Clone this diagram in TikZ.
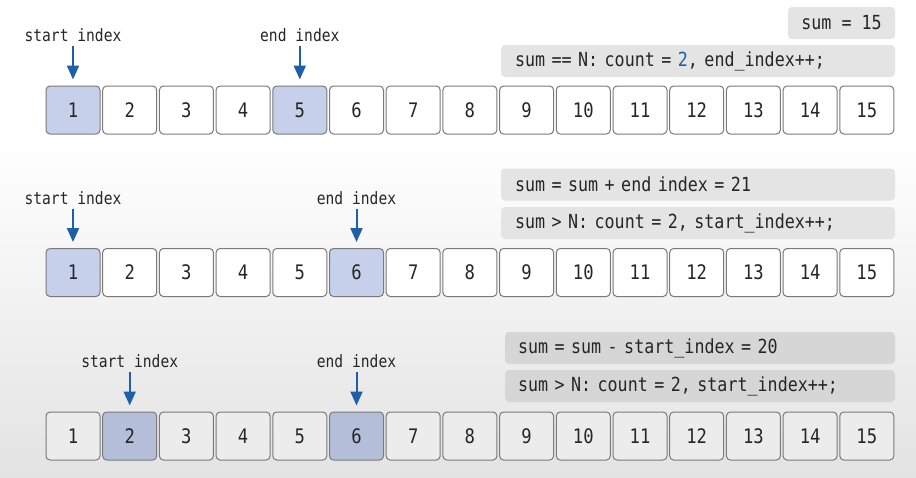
\documentclass[tikz,border=0pt]{standalone}
\usepackage{fontspec}
\setmonofont[FakeStretch=0.86]{DejaVu Sans Mono}
\usetikzlibrary{arrows.meta}

\definecolor{ptrblue}{HTML}{1F5FA8}
\definecolor{hlfill}{HTML}{C6D0EA}
\definecolor{hlfilldark}{HTML}{B5BED8}
\definecolor{cellgray}{HTML}{ECECEC}
\definecolor{notegray}{HTML}{E4E4E4}
\definecolor{notegraydark}{HTML}{D6D6D6}
\definecolor{edgegray}{HTML}{7A7A7A}

\tikzset{
  cell/.style={draw=edgegray, line width=1pt, rounded corners=4pt,
    minimum width=54pt, minimum height=48pt, inner sep=0pt,
    font=\ttfamily\fontsize{20}{20}\selectfont, text=black!85},
  note/.style={fill=notegray, rounded corners=4pt, minimum height=32pt,
    font=\ttfamily\fontsize{19.4}{20}\selectfont, text=black!85},
  codenote/.style={note, text width=366pt, inner xsep=14pt, align=left},
  ptrlabel/.style={font=\ttfamily\fontsize{17}{17}\selectfont, text=black!85, inner sep=2pt},
  ptr/.style={-{Triangle[width=12pt,length=14pt]}, ptrblue, line width=2pt,
    shorten <=2pt, shorten >=6pt},
}

\begin{document}
\begin{tikzpicture}[x=1pt, y=-1pt]
    \useasboundingbox (0,0) rectangle (916,477);
    % background
    \fill[white] (0,0) rectangle (916,477);
    \shade[top color=white, bottom color=black!11] (0,140) rectangle (916,477);

    % Step 1: sum == N
    \node[note, minimum width=107pt] (sum1) at (841.5,23) {sum = 15};
    \node[codenote] (cond1) at (698,61) {sum == N: count = \textcolor{ptrblue}{2}, end\_index++;};
    \foreach \i in {1,...,15}{
        \def\cf{white}
        \ifnum\i=1 \def\cf{hlfill}\fi
        \ifnum\i=5 \def\cf{hlfill}\fi
        \node[cell, fill=\cf] (a\i) at ({73+(\i-1)*56.7},110) {\i};
    }
    \node[ptrlabel] (s1) at (73,35) {start index};
    \node[ptrlabel] (e1) at (a5 |- s1) {end index};
    \draw[ptr] (s1) -- (a1);
    \draw[ptr] (e1) -- (a5);

    % Step 2: end index moves
    \node[codenote] (calc2) at (698,184.5) {sum = sum + end index = 21};
    \node[codenote] (cond2) at (698,223) {sum > N: count = 2, start\_index++;};
    \foreach \i in {1,...,15}{
        \def\cf{white}
        \ifnum\i=1 \def\cf{hlfill}\fi
        \ifnum\i=6 \def\cf{hlfill}\fi
        \node[cell, fill=\cf] (b\i) at ({73+(\i-1)*56.7},272.5) {\i};
    }
    \node[ptrlabel] (s2) at (73,198) {start index};
    \node[ptrlabel] (e2) at (b6 |- s2) {end index};
    \draw[ptr] (s2) -- (b1);
    \draw[ptr] (e2) -- (b6);

    % Step 3: start index moves
    \node[codenote, fill=notegraydark, text width=364pt, inner xsep=13pt] (calc3) at (700,348) {sum = sum - start\_index = 20};
    \node[codenote, fill=notegraydark, text width=364pt, inner xsep=13pt] (cond3) at (700,386) {sum > N: count = 2, start\_index++;};
    \foreach \i in {1,...,15}{
        \def\cf{cellgray}
        \ifnum\i=2 \def\cf{hlfilldark}\fi
        \ifnum\i=6 \def\cf{hlfilldark}\fi
        \node[cell, fill=\cf] (c\i) at ({73+(\i-1)*56.7},436) {\i};
    }
    \node[ptrlabel] (s3) at (c2 |- 0,361) {start index};
    \node[ptrlabel] (e3) at (c6 |- s3) {end index};
    \draw[ptr] (s3) -- (c2);
    \draw[ptr] (e3) -- (c6);
\end{tikzpicture}
\end{document}
